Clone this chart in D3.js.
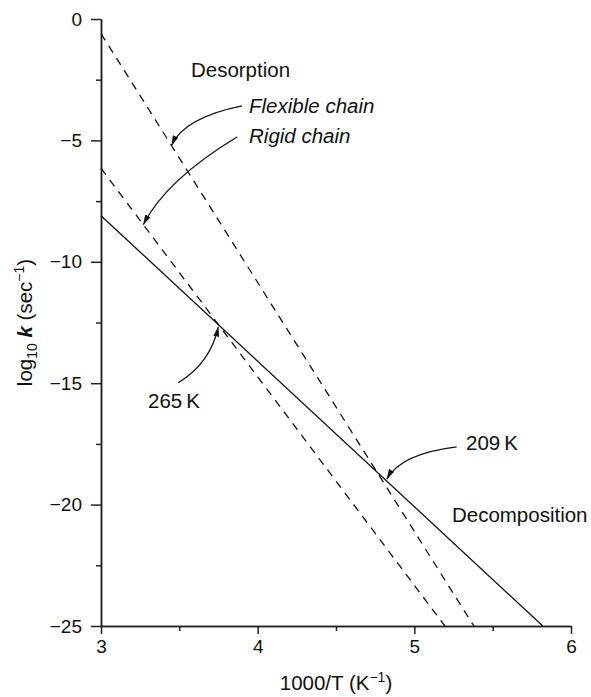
<!DOCTYPE html>
<html>
<head>
<meta charset="utf-8">
<script src="https://cdn.jsdelivr.net/npm/d3@7"></script>
<style>
  body { margin: 0; background: #fff; }
  text { font-family: "Liberation Sans", Arial, sans-serif; fill: #111; }
</style>
</head>
<body>
<div id="chart"></div>
<script>
// Axis ticks
const xTicks = [3, 4, 5, 6];
const xMinor = [3.5, 4.5, 5.5];
const yTicks = [0, -5, -10, -15, -20, -25];
const yMinor = [-2.5, -7.5, -12.5, -17.5, -22.5];

// Lines (1000/T, log10 k)
const decompX = [3, 5.82];
const decompY = [-8.1, -25];
const flexX = [3, 5.38];
const flexY = [-0.6, -25];
const rigidX = [3, 5.195];
const rigidY = [-6.15, -25];

// Text labels in data coordinates
const labelText = ["Desorption", "Flexible chain", "Rigid chain", "265\u2009K", "209\u2009K", "Decomposition"];
const labelX = [3.574, 3.945, 3.945, 3.30, 5.33, 5.24];
const labelY = [-2.39, -3.87, -5.11, -16.02, -17.75, -20.72];
const labelItalic = [false, true, true, false, false, false];

// Curved arrows: start, control, tip
const arrowStart = [[3.90, -3.58], [3.868, -4.86], [3.493, -14.98], [5.27, -17.62]];
const arrowCtrl = [[3.53, -4.06], [3.415, -6.63], [3.699, -14.18], [4.914, -17.9]];
const arrowTip = [[3.45, -5.21], [3.27, -8.47], [3.749, -12.67], [4.824, -18.95]];

const width = 591;
const height = 697;

const svg = d3.select("#chart")
    .append("svg")
    .attr("width", width)
    .attr("height", height);

const x = d3.scaleLinear().domain([3, 6]).range([101, 571]);
const y = d3.scaleLinear().domain([-25, 0]).range([626, 19]);

// arrowhead marker
svg.append("defs").append("marker")
    .attr("id", "head")
    .attr("viewBox", "0 0 10 6")
    .attr("refX", 10)
    .attr("refY", 3)
    .attr("markerWidth", 10)
    .attr("markerHeight", 6)
    .attr("markerUnits", "userSpaceOnUse")
    .attr("orient", "auto")
    .append("path")
    .attr("d", "M0,0 L10,3 L0,6 Z")
    .attr("fill", "#111");

// x axis
const xAxis = svg.append("g")
    .attr("transform", `translate(0,${y(-25)})`)
    .call(d3.axisBottom(x).tickValues(xTicks).tickFormat(d3.format("d")).tickSize(8).tickSizeOuter(0).tickPadding(6));
svg.append("g")
    .attr("transform", `translate(0,${y(-25)})`)
    .call(d3.axisBottom(x).tickValues(xMinor).tickFormat("").tickSize(5).tickSizeOuter(0));

// y axis
const yAxis = svg.append("g")
    .attr("transform", `translate(${x(3)},0)`)
    .call(d3.axisLeft(y).tickValues(yTicks).tickFormat(d3.format("d")).tickSize(10).tickSizeOuter(0).tickPadding(9));
svg.append("g")
    .attr("transform", `translate(${x(3)},0)`)
    .call(d3.axisLeft(y).tickValues(yMinor).tickFormat("").tickSize(5).tickSizeOuter(0));

svg.selectAll(".domain, .tick line")
    .attr("stroke", "#222")
    .attr("stroke-width", 1.5);
svg.selectAll(".tick text")
    .style("font-size", "19px")
    .attr("fill", "#111");

// lines
const line = d3.line().x(d => x(d[0])).y(d => y(d[1]));
const series = [
    { xs: decompX, ys: decompY, dash: null },
    { xs: flexX, ys: flexY, dash: "8,6.5" },
    { xs: rigidX, ys: rigidY, dash: "8,6.5" }
];
series.forEach(s => {
    svg.append("path")
        .datum(s.xs.map((v, i) => [v, s.ys[i]]))
        .attr("d", line)
        .attr("fill", "none")
        .attr("stroke", "#111")
        .attr("stroke-width", 1.3)
        .attr("stroke-dasharray", s.dash);
});

// arrows
arrowStart.forEach((s, i) => {
    const c = arrowCtrl[i], t = arrowTip[i];
    const p = d3.path();
    p.moveTo(x(s[0]), y(s[1]));
    p.quadraticCurveTo(x(c[0]), y(c[1]), x(t[0]), y(t[1]));
    svg.append("path")
        .attr("d", p.toString())
        .attr("fill", "none")
        .attr("stroke", "#111")
        .attr("stroke-width", 1.3)
        .attr("marker-end", "url(#head)");
});

// labels
labelText.forEach((t, i) => {
    svg.append("text")
        .attr("x", x(labelX[i]))
        .attr("y", y(labelY[i]))
        .style("font-size", "20.5px")
        .style("font-style", labelItalic[i] ? "italic" : "normal")
        .text(t);
});

// x axis title
const xt = svg.append("text")
    .attr("x", (x(3) + x(6)) / 2)
    .attr("y", 690)
    .attr("text-anchor", "middle")
    .style("font-size", "20.5px");
xt.append("tspan").text("1000/T (K");
xt.append("tspan").attr("dy", -8).style("font-size", "14px").text("\u22121");
xt.append("tspan").attr("dy", 8).text(")");

// y axis title
const yt = svg.append("text")
    .attr("transform", `translate(31.5,${(y(0) + y(-25)) / 2}) rotate(-90)`)
    .attr("text-anchor", "middle")
    .style("font-size", "20.5px");
yt.append("tspan").text("log");
yt.append("tspan").attr("dy", 5).style("font-size", "14px").text("10");
yt.append("tspan").attr("dy", -5).text(" ");
yt.append("tspan").style("font-weight", "bold").style("font-style", "italic").text("k");
yt.append("tspan").text(" (sec");
yt.append("tspan").attr("dy", -8).style("font-size", "14px").text("\u22121");
yt.append("tspan").attr("dy", 8).text(")");
</script>
</body>
</html>
